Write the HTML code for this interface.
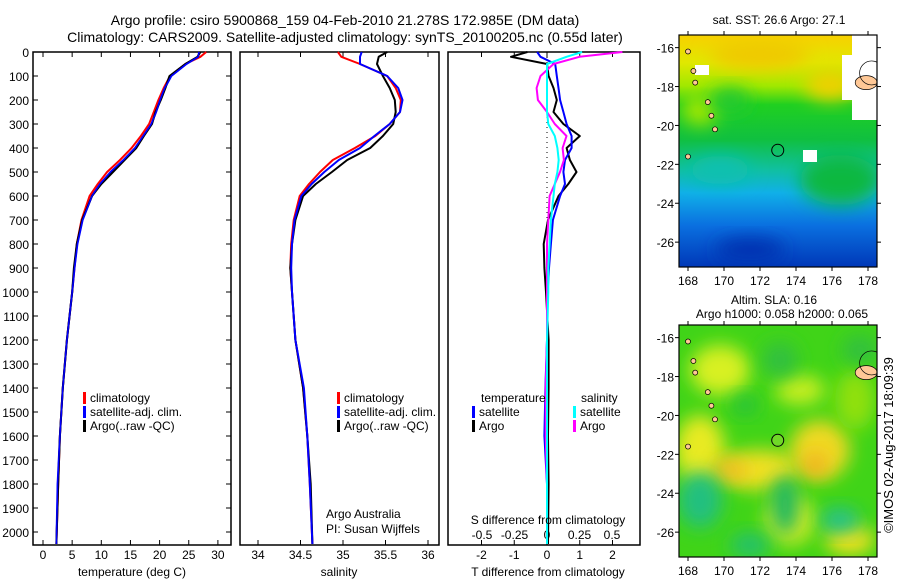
<!DOCTYPE html>
<html><head><meta charset="utf-8">
<style>
body{margin:0;background:#fff;width:900px;height:580px;overflow:hidden;font-family:"Liberation Sans",sans-serif}
svg text{font-family:"Liberation Sans",sans-serif;fill:#000}
</style></head>
<body>
<svg id="chart" width="900" height="580" xmlns="http://www.w3.org/2000/svg">
<defs>
<linearGradient id="sstg" x1="0" y1="0" x2="0" y2="1">
<stop offset="0" stop-color="#f8d000"/><stop offset="0.12" stop-color="#e0e800"/>
<stop offset="0.22" stop-color="#a0e800"/><stop offset="0.3" stop-color="#20d020"/>
<stop offset="0.45" stop-color="#10c040"/><stop offset="0.58" stop-color="#10c0a0"/>
<stop offset="0.68" stop-color="#10b0e8"/><stop offset="0.82" stop-color="#0a70e0"/>
<stop offset="1" stop-color="#0038b8"/></linearGradient>
<filter id="bl" x="-50%" y="-50%" width="200%" height="200%"><feGaussianBlur stdDeviation="9"/></filter>
<clipPath id="c1"><rect x="679" y="35" width="198" height="232"/></clipPath>
<clipPath id="c2"><rect x="679" y="325" width="198" height="232"/></clipPath>
</defs>
<text x="345" y="25" font-size="14" text-anchor="middle">Argo profile: csiro 5900868_159 04-Feb-2010 21.278S 172.985E (DM data)</text>
<text x="345" y="42" font-size="14" text-anchor="middle">Climatology: CARS2009. Satellite-adjusted climatology: synTS_20100205.nc (0.55d later)</text>
<g id="panels"></g>
<g id="maps"></g>
<text transform="translate(893,445) rotate(-90)" font-size="13" text-anchor="middle">©IMOS 02-Aug-2017 18:09:39</text>
</svg>
<script>
// depth levels (m)
const depths=[0,20,50,100,150,200,250,300,350,400,450,500,550,600,700,800,900,1000,1200,1400,1600,1800,2050];
// temperature (deg C)
const tempClim=[28.0,27.0,24.4,21.8,20.7,19.8,19.0,18.2,16.8,15.2,13.2,11.0,9.4,8.0,6.6,5.8,5.4,5.0,4.1,3.4,2.9,2.6,2.3];
const tempSat =[26.8,26.6,24.6,22.0,20.9,20.1,19.4,18.6,17.2,15.8,13.8,11.6,9.8,8.4,6.8,5.9,5.4,5.0,4.1,3.4,2.9,2.5,2.3];
const tempArgo=[27.0,26.5,24.4,21.7,21.0,20.2,19.3,18.7,17.3,16.0,14.0,12.0,10.0,8.4,6.7,5.8,5.3,5.0,4.1,3.4,2.9,2.6,2.3];
// salinity
const salClim=[34.94,34.98,35.20,35.52,35.62,35.68,35.67,35.55,35.38,35.14,34.88,34.73,34.60,34.49,34.42,34.39,34.38,34.40,34.44,34.53,34.58,34.61,34.64];
const salSat =[35.22,35.20,35.20,35.52,35.65,35.70,35.67,35.55,35.37,35.20,34.95,34.78,34.63,34.51,34.43,34.40,34.39,34.40,34.44,34.54,34.58,34.61,34.64];
const salArgo=[35.52,35.42,35.40,35.47,35.55,35.61,35.62,35.59,35.47,35.32,35.05,34.87,34.68,34.53,34.44,34.40,34.38,34.40,34.44,34.53,34.58,34.62,34.64];
// differences from climatology
const dTsat =[-0.3,-0.2,0.25,0.3,0.35,0.4,0.5,0.6,0.75,0.75,0.55,0.5,0.55,0.4,0.18,0.12,0.06,0.02,0.0,-0.05,-0.08,0.0,0.0];
const dTargo=[-0.6,-1.1,0.0,0.05,0.2,0.3,0.2,0.5,1.0,0.6,0.7,0.9,0.65,0.35,0.03,-0.1,-0.08,-0.03,0.05,0.05,0.03,0.05,0.03];
const dSsat =[0.27,0.15,0.0,0.0,0.0,0.0,0.0,0.01,0.06,0.08,0.09,0.08,0.06,0.05,0.03,0.02,0.01,0.01,0.0,0.0,0.0,0.0,0.0];
const dSargo=[0.58,0.25,0.05,-0.05,-0.08,-0.07,0.0,0.06,0.15,0.12,0.13,0.10,0.06,0.02,0.01,0.0,0.0,0.0,0.0,-0.01,-0.01,0.0,0.0];
// tick labels
const depthTicks=[0,100,200,300,400,500,600,700,800,900,1000,1100,1200,1300,1400,1500,1600,1700,1800,1900,2000];
const tempTicks=[0,5,10,15,20,25,30];
const salTicks=[34,34.5,35,35.5,36];
const dTTicks=[-2,-1,0,1,2];
const dSTicks=[-0.5,-0.25,0,0.25,0.5];
const lonTicks=[168,170,172,174,176,178];
const latTicks=[-16,-18,-20,-22,-24,-26];

const NS='http://www.w3.org/2000/svg';
function mk(tag,attrs,parent,txt){const e=document.createElementNS(NS,tag);for(const k in attrs)e.setAttribute(k,attrs[k]);if(txt!==undefined)e.textContent=txt;parent.appendChild(e);return e;}
const yTop=52,yBot=545;
const yD=d=>52+0.24*d;
const xT=t=>43+5.83*t;
const xS=s=>258+85*(s-34);
const xDT=v=>547+32.75*v;
const xDS=v=>547+130*v;
const P=document.getElementById('panels');

function frame(x0,x1,name){
  const r=mk('rect',{x:x0,y:yTop,width:x1-x0,height:yBot-yTop,fill:'none',stroke:'#000','stroke-width':1.5},P);
  
  
}
function line(xs,xf,color,name,w){
  const pts=depths.map((d,i)=>xf(xs[i]).toFixed(1)+','+yD(d).toFixed(1)).join(' ');
  const p=mk('polyline',{points:pts,fill:'none',stroke:color,'stroke-width':w||2,'stroke-linejoin':'round'},P);
  
  
}
function legend(x,y,color,label,name){
  const g=mk('g',{},P);
  
  
  mk('rect',{x:x,y:y-10,width:3,height:12,fill:color},g);
  mk('text',{x:x+7,y:y,'font-size':12},g,label);
}
// panel 1
frame(33,231,'temperature-panel');
depthTicks.forEach(d=>{
  const t=mk('text',{x:29,y:yD(d)+5,'font-size':12,'text-anchor':'end'},P,String(d));
  
  
  mk('line',{x1:33,x2:38,y1:yD(d),y2:yD(d),stroke:'#000'},P);
  mk('line',{x1:226,x2:231,y1:yD(d),y2:yD(d),stroke:'#000'},P);
});
tempTicks.forEach(v=>{
  const t=mk('text',{x:xT(v),y:559,'font-size':12,'text-anchor':'middle'},P,String(v));
  
  
  mk('line',{x1:xT(v),x2:xT(v),y1:yBot,y2:yBot-5,stroke:'#000'},P);
  mk('line',{x1:xT(v),x2:xT(v),y1:yTop,y2:yTop+5,stroke:'#000'},P);
});
line(tempClim,xT,'#ff0000','temperature-climatology-line');
line(tempSat,xT,'#0000ff','temperature-satellite-line');
line(tempArgo,xT,'#000000','temperature-argo-line');
line(tempSat,xT,'#0000ff','temperature-satellite-line-top',1.5);
legend(83,402,'#ff0000','climatology','legend-climatology');
legend(83,416,'#0000ff','satellite-adj. clim.','legend-satellite');
legend(83,430,'#000000','Argo(..raw -QC)','legend-argo');
mk('text',{x:132,y:576,'font-size':12,'text-anchor':'middle',},P,'temperature (deg C)');

// panel 2
frame(240,439,'salinity-panel');
salTicks.forEach(v=>{
  const t=mk('text',{x:xS(v),y:559,'font-size':12,'text-anchor':'middle'},P,String(v));
  
  
  mk('line',{x1:xS(v),x2:xS(v),y1:yBot,y2:yBot-5,stroke:'#000'},P);
  mk('line',{x1:xS(v),x2:xS(v),y1:yTop,y2:yTop+5,stroke:'#000'},P);
});
line(salClim,xS,'#ff0000','salinity-climatology-line');
line(salArgo,xS,'#000000','salinity-argo-line');
line(salSat,xS,'#0000ff','salinity-satellite-line');
legend(337,402,'#ff0000','climatology','legend-climatology-2');
legend(337,416,'#0000ff','satellite-adj. clim.','legend-satellite-2');
legend(337,430,'#000000','Argo(..raw -QC)','legend-argo-2');
mk('text',{x:326,y:518,'font-size':12,},P,'Argo Australia');
mk('text',{x:326,y:533,'font-size':12,},P,'PI: Susan Wijffels');
mk('text',{x:339,y:576,'font-size':12,'text-anchor':'middle',},P,'salinity');

// panel 3
frame(448,640,'difference-panel');
mk('line',{x1:547,x2:547,y1:yTop,y2:yBot,stroke:'#000','stroke-dasharray':'1,4'},P);
dTTicks.forEach(v=>{
  const t=mk('text',{x:xDT(v),y:559,'font-size':12,'text-anchor':'middle'},P,String(v));
  
  
  mk('line',{x1:xDT(v),x2:xDT(v),y1:yBot,y2:yBot-5,stroke:'#000'},P);
  mk('line',{x1:xDT(v),x2:xDT(v),y1:yTop,y2:yTop+5,stroke:'#000'},P);
});
dSTicks.forEach(v=>{
  const t=mk('text',{x:xDS(v),y:539,'font-size':12,'text-anchor':'middle'},P,String(v));
  
  
});
line(dTargo,xDT,'#000000','t-diff-argo-line');
line(dTsat,xDT,'#0000ff','t-diff-satellite-line');
line(dSargo,xDS,'#ff00ff','s-diff-argo-line');
line(dSsat,xDS,'#00ffff','s-diff-satellite-line');
mk('text',{x:481,y:402,'font-size':12,},P,'temperature');
mk('text',{x:581,y:402,'font-size':12,},P,'salinity');
legend(472,416,'#0000ff','satellite','legend-t-satellite');
legend(472,430,'#000000','Argo','legend-t-argo');
legend(573,416,'#00ffff','satellite','legend-s-satellite');
legend(573,430,'#ff00ff','Argo','legend-s-argo');
mk('text',{x:548,y:524,'font-size':12,'text-anchor':'middle',},P,'S difference from climatology');
mk('text',{x:548,y:576,'font-size':12,'text-anchor':'middle',},P,'T difference from climatology');

// maps
const M=document.getElementById('maps');
const mx=lon=>679+18*(lon-167.5);
function my(y0){return lat=>y0+19.45*(-15.35-lat);}
function mapAxes(y0,name){
  const f=my(y0);
  const r=mk('rect',{x:679,y:y0,width:198,height:232,fill:'none',stroke:'#000','stroke-width':1.2},M);
  
  
  lonTicks.forEach(v=>{
    const t=mk('text',{x:mx(v),y:y0+250,'font-size':12,'text-anchor':'middle'},M,String(v));
    
    
    mk('line',{x1:mx(v),x2:mx(v),y1:y0+232,y2:y0+236,stroke:'#000'},M);
    mk('line',{x1:mx(v),x2:mx(v),y1:y0,y2:y0-4,stroke:'#000'},M);
  });
  latTicks.forEach(v=>{
    const t=mk('text',{x:674,y:f(v)+5,'font-size':12,'text-anchor':'end'},M,String(v));
    
    
    mk('line',{x1:679,x2:675,y1:f(v),y2:f(v),stroke:'#000'},M);
    mk('line',{x1:877,x2:881,y1:f(v),y2:f(v),stroke:'#000'},M);
  });
}
function islands(g,f){
  [[168.0,-16.2],[168.3,-17.2],[168.4,-17.8],[169.1,-18.8],[169.3,-19.5],[169.5,-20.2],[168.0,-21.6]].forEach(p=>{
    mk('ellipse',{cx:mx(p[0]),cy:f(p[1]),rx:2.5,ry:2.5,fill:'#ffc896',stroke:'#000','stroke-width':0.7},g);
  });
  mk('ellipse',{cx:mx(177.9),cy:f(-17.8),rx:11,ry:7,fill:'#ffc896',stroke:'#000','stroke-width':0.7},g);
  mk('circle',{cx:mx(178.2),cy:f(-17.3),r:12,fill:'none',stroke:'#000','stroke-width':0.7},g);
}
// SST map
const g1=mk('g',{'clip-path':'url(#c1)'},M);


mk('rect',{x:679,y:35,width:198,height:232,fill:'url(#sstg)'},g1);
mk('ellipse',{cx:760,cy:55,rx:50,ry:14,fill:'#f0c800',filter:'url(#bl)'},g1);
mk('ellipse',{cx:830,cy:85,rx:25,ry:15,fill:'#f0d000',filter:'url(#bl)'},g1);
mk('ellipse',{cx:700,cy:110,rx:18,ry:15,fill:'#a8e800',filter:'url(#bl)'},g1);
mk('ellipse',{cx:730,cy:100,rx:20,ry:12,fill:'#20c830',filter:'url(#bl)'},g1);
mk('ellipse',{cx:840,cy:180,rx:40,ry:25,fill:'#10b840',filter:'url(#bl)'},g1);
mk('ellipse',{cx:720,cy:170,rx:30,ry:14,fill:'#10c0b0',filter:'url(#bl)'},g1);
mk('ellipse',{cx:750,cy:250,rx:35,ry:12,fill:'#0030b0',filter:'url(#bl)'},g1);
mk('rect',{x:852,y:35,width:25,height:85,fill:'#fff'},g1);
mk('rect',{x:842,y:55,width:12,height:45,fill:'#fff'},g1);
mk('rect',{x:803,y:150,width:14,height:12,fill:'#fff'},g1);
mk('rect',{x:695,y:65,width:14,height:10,fill:'#fff'},g1);
islands(g1,my(35));
mk('circle',{cx:mx(172.985),cy:my(35)(-21.278),r:6,fill:'none',stroke:'#000'},M);
mapAxes(35,'sst-map-frame');
mk('text',{x:779,y:24,'font-size':12,'text-anchor':'middle',},M,'sat. SST: 26.6 Argo: 27.1');
// SLA map
const g2=mk('g',{'clip-path':'url(#c2)'},M);


mk('rect',{x:679,y:325,width:198,height:232,fill:'#40d418'},g2);
[[720,370,30,25,'#d8f020'],[700,450,25,35,'#e8ea20'],[760,470,40,20,'#f0e020'],[820,450,30,30,'#f0d820'],[855,400,20,30,'#90e010'],[800,390,25,15,'#c8ee20'],[790,520,25,25,'#d8ec20'],[850,540,25,15,'#f0e020'],[730,470,18,12,'#f0c020'],[815,465,12,12,'#f0b020']].forEach(b=>{
  mk('ellipse',{cx:b[0],cy:b[1],rx:b[2],ry:b[3],fill:b[4],filter:'url(#bl)'},g2);
});
[[700,500,22,28,'#20c080'],[745,405,12,10,'#20c040'],[785,505,14,30,'#20b860'],[840,520,20,12,'#20c090'],[750,545,20,12,'#20c070'],[780,360,18,18,'#30c040'],[860,350,18,15,'#30c040']].forEach(b=>{
  mk('ellipse',{cx:b[0],cy:b[1],rx:b[2],ry:b[3],fill:b[4],filter:'url(#bl)'},g2);
});
islands(g2,my(325));
mk('circle',{cx:mx(172.985),cy:my(325)(-21.278),r:6,fill:'#70d828',stroke:'#000'},M);
mapAxes(325,'sla-map-frame');
mk('text',{x:774,y:304,'font-size':12,'text-anchor':'middle',},M,'Altim. SLA: 0.16');
mk('text',{x:782,y:318,'font-size':12,'text-anchor':'middle',},M,'Argo h1000: 0.058 h2000: 0.065');
</script>
</body></html>
